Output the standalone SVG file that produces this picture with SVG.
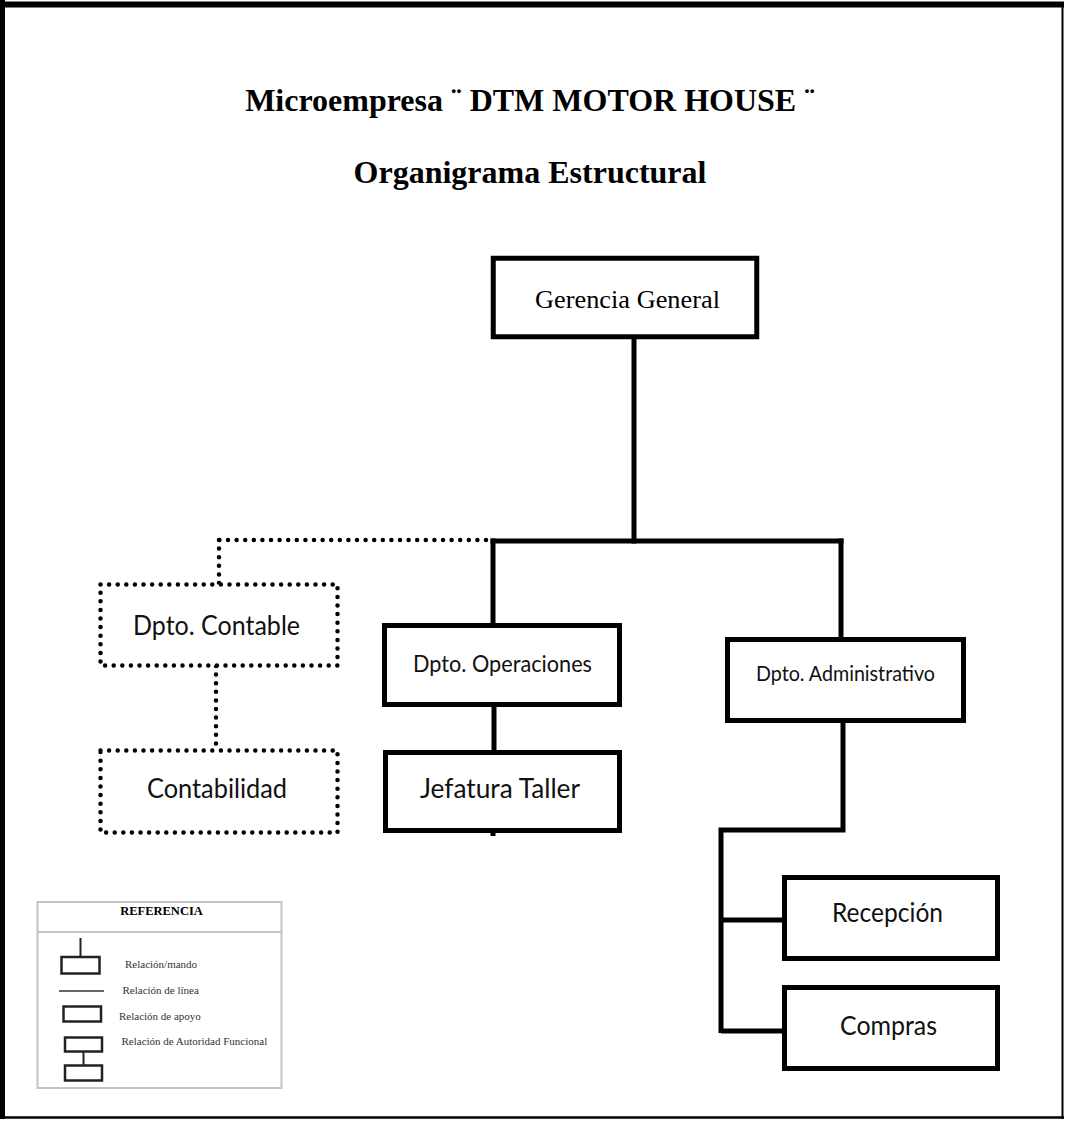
<svg xmlns="http://www.w3.org/2000/svg" width="1066" height="1122" viewBox="0 0 1066 1122">
<defs>
<style>
.frame{stroke:#000;fill:none}
.box{fill:#fff;stroke:#000;stroke-width:5}
.dbox{fill:#fff;stroke:#000;stroke-width:4.5;stroke-dasharray:0 8.6;stroke-linecap:round}
.line{stroke:#000;stroke-width:5;fill:none}
.dline{stroke:#000;stroke-width:4.5;fill:none;stroke-dasharray:0 8.6;stroke-linecap:round}
.title{font-family:"Liberation Serif","Times New Roman",serif;font-weight:bold;font-size:32px;fill:#000;text-anchor:middle}
.serif{font-family:"Liberation Serif","Times New Roman",serif;fill:#000}
.sans{font-family:Lato,"Open Sans","Liberation Sans",sans-serif;fill:#111}
.lg{font-family:"Liberation Serif","Times New Roman",serif;font-size:11px;fill:#333}
.lsym{fill:#fff;stroke:#222;stroke-width:2.5}
</style>
</defs>
<rect x="0" y="0" width="1066" height="1122" fill="#fff"/>
<g id="frame">
<line class="frame" x1="0" y1="4.5" x2="1064" y2="4.5" stroke-width="6"/>
<line class="frame" x1="2.5" y1="0" x2="2.5" y2="1119" stroke-width="5"/>
<line class="frame" x1="0" y1="1117.5" x2="1064" y2="1117.5" stroke-width="2.5"/>
<line class="frame" x1="1062.5" y1="2" x2="1062.5" y2="1119" stroke-width="2"/>
</g>
<g id="titles">
<text class="title" x="530" y="111">Microempresa ¨ DTM MOTOR HOUSE ¨</text>
<text class="title" x="530" y="183">Organigrama Estructural</text>
</g>
<g id="connectors">
<line class="line" x1="634" y1="338" x2="634" y2="543.5"/>
<line class="line" x1="490.5" y1="541" x2="843.5" y2="541"/>
<line class="line" x1="493" y1="538.5" x2="493" y2="626"/>
<line class="line" x1="841" y1="538.5" x2="841" y2="640"/>
<line class="line" x1="494" y1="705" x2="494" y2="753"/>
<line class="line" x1="493" y1="830" x2="493" y2="836" stroke-width="3"/>
<polyline class="line" points="843,721 843,830 721,830 721,1033"/>
<line class="line" x1="721" y1="920" x2="785" y2="920"/>
<line class="line" x1="721" y1="1031" x2="785" y2="1031"/>
<line class="dline" x1="486" y1="540" x2="219" y2="540"/>
<line class="dline" x1="219" y1="540" x2="219" y2="584"/>
<line class="dline" x1="216" y1="666" x2="216" y2="750"/>
</g>
<g id="gerencia">
<rect class="box" x="493.25" y="258.25" width="263.5" height="78.5" stroke-width="6.5"/>
<text class="serif" x="535" y="308" font-size="26" textLength="185" lengthAdjust="spacingAndGlyphs">Gerencia General</text>
</g>
<g id="contable">
<rect class="dbox" x="100.5" y="584.5" width="237" height="81"/>
<text class="sans" x="133" y="635" font-size="26" textLength="167" lengthAdjust="spacingAndGlyphs">Dpto. Contable</text>
</g>
<g id="contabilidad">
<rect class="dbox" x="100.5" y="750.5" width="237" height="82"/>
<text class="sans" x="147" y="798" font-size="26" textLength="140" lengthAdjust="spacingAndGlyphs">Contabilidad</text>
</g>
<g id="operaciones">
<rect class="box" x="384.5" y="625.5" width="235" height="79"/>
<text class="sans" x="413" y="672" font-size="23" textLength="179" lengthAdjust="spacingAndGlyphs">Dpto. Operaciones</text>
</g>
<g id="jefatura">
<rect class="box" x="385.5" y="752.5" width="234" height="78"/>
<text class="sans" x="420" y="798" font-size="27" textLength="160" lengthAdjust="spacingAndGlyphs">Jefatura Taller</text>
</g>
<g id="administrativo">
<rect class="box" x="727.5" y="639.5" width="236" height="81"/>
<text class="sans" x="756" y="681" font-size="20.5" textLength="179" lengthAdjust="spacingAndGlyphs">Dpto. Administrativo</text>
</g>
<g id="recepcion">
<rect class="box" x="784.5" y="877.5" width="213" height="81"/>
<text class="sans" x="832" y="922" font-size="26.5" textLength="111" lengthAdjust="spacingAndGlyphs">Recepción</text>
</g>
<g id="compras">
<rect class="box" x="784.5" y="987.5" width="213" height="81"/>
<text class="sans" x="840" y="1035" font-size="26.5" textLength="97" lengthAdjust="spacingAndGlyphs">Compras</text>
</g>
<g id="referencia">
<rect x="37.5" y="902" width="244" height="186" fill="#fff" stroke="#c4c4c4" stroke-width="2"/>
<line x1="37.5" y1="932" x2="281.5" y2="932" stroke="#c4c4c4" stroke-width="2"/>
<text class="serif" x="161.5" y="914.5" font-size="12.5" font-weight="bold" text-anchor="middle" fill="#222">REFERENCIA</text>
<line x1="80.5" y1="938" x2="80.5" y2="957" stroke="#222" stroke-width="2"/>
<rect class="lsym" x="61.5" y="957" width="38" height="16.5"/>
<text class="lg" x="125" y="968">Relación/mando</text>
<line x1="59" y1="991" x2="104" y2="991" stroke="#666" stroke-width="2"/>
<text class="lg" x="122.5" y="994">Relación de línea</text>
<rect class="lsym" x="63.5" y="1006.5" width="37.5" height="15"/>
<text class="lg" x="119" y="1020">Relación de apoyo</text>
<rect class="lsym" x="65" y="1037.5" width="37" height="14"/>
<line x1="83.5" y1="1052" x2="83.5" y2="1065" stroke="#222" stroke-width="2"/>
<rect class="lsym" x="65" y="1065.5" width="37" height="15"/>
<text class="lg" x="121.5" y="1045">Relación de Autoridad Funcional</text>
</g>
</svg>
